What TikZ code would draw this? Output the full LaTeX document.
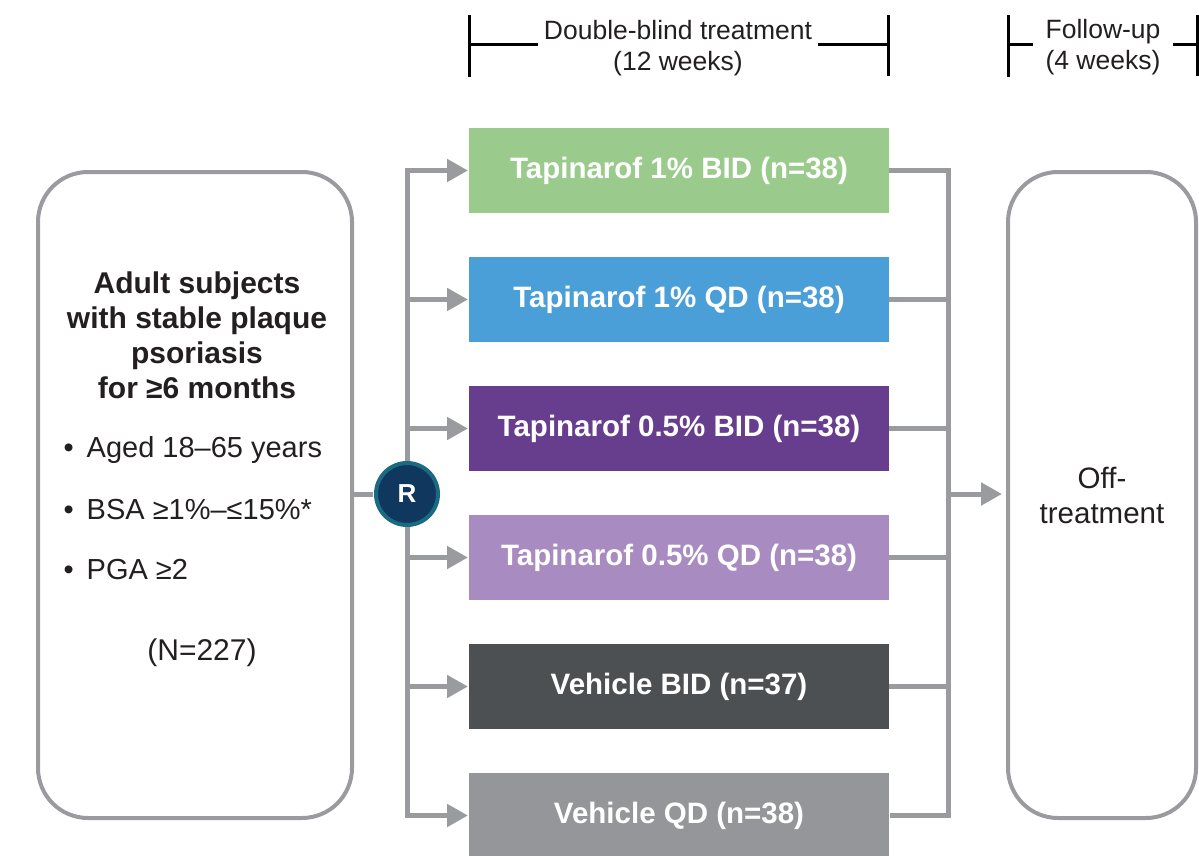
\documentclass[tikz,border=0pt]{standalone}
\usepackage{fontspec}
\setmainfont{Liberation Sans}
\usetikzlibrary{arrows.meta,positioning}
\definecolor{linegray}{HTML}{9A9B9E}
\definecolor{inkblack}{HTML}{231F20}
\definecolor{armgreen}{HTML}{9ACB8C}
\definecolor{armblue}{HTML}{4B9FD8}
\definecolor{armpurple}{HTML}{673E8D}
\definecolor{armlilac}{HTML}{A88BC0}
\definecolor{armdark}{HTML}{4D5052}
\definecolor{armgray}{HTML}{949699}
\definecolor{rnavy}{HTML}{10385E}
\definecolor{rteal}{HTML}{1A6B82}

\begin{document}
\begin{tikzpicture}[x=1pt,y=-1pt,>={Triangle[length=21pt,width=22pt]},
  shorten >=1pt,node distance=44pt,text=inkblack,
  arm/.style={rectangle,outer sep=0pt,minimum width=420pt,minimum height=85pt,
    text=white,font=\bfseries\fontsize{29.5}{32}\selectfont},
  panel/.style={draw=linegray,line width=4pt,rounded corners=50pt,minimum height=646pt},
  conn/.style={draw=linegray,line width=5pt},
  brk/.style={draw=black,line width=3pt},
  hdr/.style={align=center,inner sep=6pt,font=\fontsize{26.5}{31}\selectfont},
  crit/.style={anchor=west,font=\fontsize{29}{30}\selectfont}]
  \useasboundingbox (0,0) rectangle (1199,856);

  % treatment arms
  \node[arm,fill=armgreen]             (bid1)  at (679,170.5) {Tapinarof 1\% BID (n=38)};
  \node[arm,fill=armblue,below=of bid1]  (qd1)   {Tapinarof 1\% QD (n=38)};
  \node[arm,fill=armpurple,below=of qd1] (bid05) {Tapinarof 0.5\% BID (n=38)};
  \node[arm,fill=armlilac,below=of bid05] (qd05) {Tapinarof 0.5\% QD (n=38)};
  \node[arm,fill=armdark,below=of qd05]  (vbid)  {Vehicle BID (n=37)};
  \node[arm,fill=armgray,below=of vbid]  (vqd)   {Vehicle QD (n=38)};

  % population and follow-up
  \node[panel,minimum width=314pt] (subj) at (195,495) {};
  \node[align=center,font=\bfseries\fontsize{30}{35}\selectfont] (title) at (197,335)
    {Adult subjects\\with stable plaque\\psoriasis\\for ≥6 months};
  \node[crit] (age) at (60,450) {\textbullet\hspace{13pt}Aged 18–65 years};
  \node[crit] (bsa) at (60,510) {\textbullet\hspace{13pt}BSA ≥1\%–≤15\%*};
  \node[crit] (pga) at (60,570) {\textbullet\hspace{13pt}PGA ≥2};
  \node[font=\fontsize{30}{30}\selectfont] (ntot) at (202,653) {(N=227)};
  \node[panel,minimum width=188pt,align=center,font=\fontsize{29.5}{35}\selectfont] (off) at (1102,495)
    {Off-\\treatment};

  \node[circle,fill=rnavy,draw=rteal,line width=4pt,minimum size=62pt,text=white,
    font=\bfseries\fontsize{26}{30}\selectfont] (rand) at (407,494) {R};
  \coordinate (merge) at (948,494);

  % randomisation
  \draw[conn] (subj.east |- rand) -- (rand.west);
  \draw[conn,->] (rand.north) -- (rand |- bid1) -- (bid1.west);
  \draw[conn,->] (rand.south) -- (rand |- vqd) -- (vqd.west);
  \foreach \a in {qd1,bid05,qd05,vbid}
    \draw[conn,->] (rand |- \a) -- (\a.west);

  % end of treatment
  \draw[conn] (bid1.east) -- (bid1.east -| merge) -- (vqd.east -| merge) -- (vqd.east);
  \foreach \a in {qd1,bid05,qd05,vbid}
    \draw[conn] (\a.east) -- (\a.east -| merge);
  \draw[conn,->,shorten >=4pt] (merge) -- (off.west |- merge);

  % periods
  \node[hdr] (dbt) at (678,48) {Double-blind treatment\\(12 weeks)};
  \draw[brk] (469,15) -- (469,77) (469,45) -- (dbt.west |- 0,45)
             (dbt.east |- 0,45) -- (888,45) (888,15) -- (888,77);
  \node[hdr,inner xsep=12pt] (fu) at (1103,47) {Follow-up\\(4 weeks)};
  \draw[brk] (1008,15) -- (1008,77) (1008,45) -- (fu.west |- 0,45)
             (fu.east |- 0,45) -- (1197,45) (1197,15) -- (1197,77);
\end{tikzpicture}
\end{document}
